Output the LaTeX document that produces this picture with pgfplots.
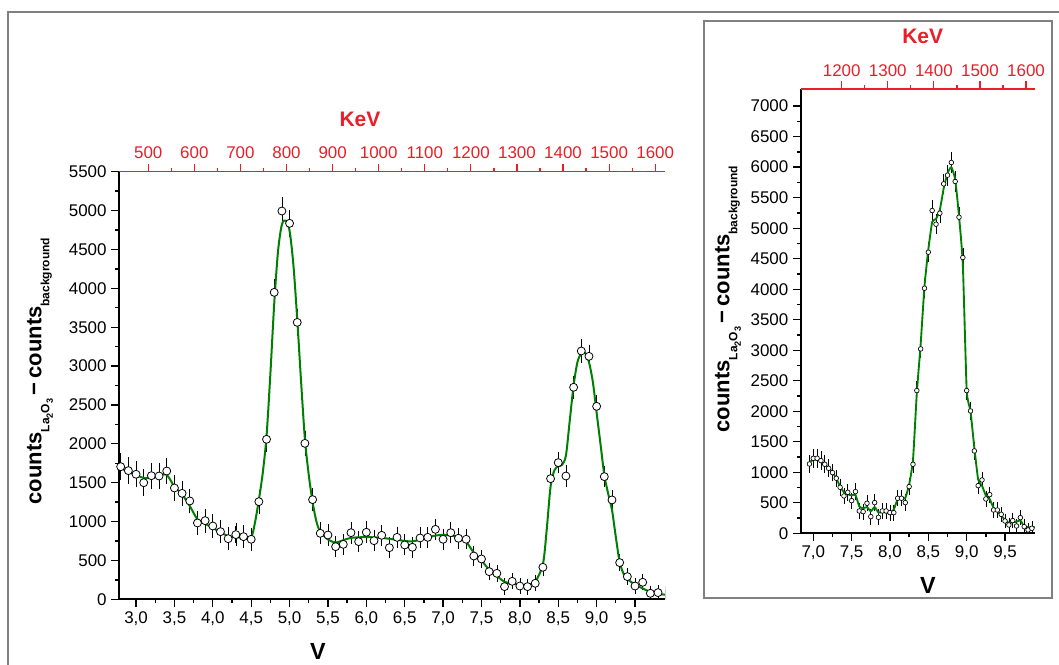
\documentclass[border=0pt]{standalone}
\usepackage{fontspec}
\setmainfont{Liberation Sans}
\usepackage{pgfplots}
\usepackage{pgfplotstable}
\pgfplotsset{compat=1.18}
\definecolor{keVred}{RGB}{232,30,40}
\definecolor{fitgreen}{RGB}{0,128,0}
\definecolor{framegray}{RGB}{128,128,128}

\pgfplotstableread{
V C E
2.8 1706 128
2.9 1655 125
3.0 1608 125
3.1 1500 125
3.2 1590 125
3.3 1586 125
3.4 1650 128
3.5 1432 120
3.6 1363 118
3.7 1265 115
3.8 982 112
3.9 1012 110
4.0 943 108
4.1 870 105
4.2 780 105
4.3 832 105
4.4 806 102
4.5 772 100
4.6 1256 110
4.7 2058 118
4.8 3948 128
4.9 4994 133
5.0 4836 130
5.1 3562 125
5.2 2006 115
5.3 1282 105
5.4 849 98
5.5 827 95
5.6 677 92
5.7 707 92
5.8 857 95
5.9 742 92
6.0 862 95
6.1 754 92
6.2 823 92
6.3 664 90
6.4 797 92
6.5 699 90
6.6 669 90
6.7 789 90
6.8 797 90
6.9 900 92
7.0 772 90
7.1 857 92
7.2 785 88
7.3 772 85
7.4 557 78
7.5 519 75
7.6 356 68
7.7 334 65
7.8 163 60
7.9 231 60
8.0 171 58
8.1 163 57
8.2 206 60
8.3 412 70
8.4 1552 90
8.5 1758 95
8.6 1586 92
8.7 2727 105
8.8 3194 108
8.9 3125 106
9.0 2482 100
9.1 1578 90
9.2 1278 85
9.3 472 65
9.4 292 60
9.5 171 56
9.6 219 56
9.7 77 52
9.8 86 52
9.9 70 52
}\maindata

\pgfplotstableread{
V F
2.78 1700
2.9 1640
3.0 1600
3.1 1560
3.2 1565
3.3 1590
3.4 1600
3.5 1450
3.6 1350
3.7 1200
3.8 1030
3.9 970
4.0 920
4.1 860
4.2 815
4.3 800
4.4 790
4.5 800
4.55 990
4.6 1280
4.65 1620
4.7 2100
4.75 2900
4.8 3800
4.85 4480
4.9 4820
4.95 4870
5.0 4740
5.05 4300
5.1 3600
5.15 2800
5.2 2060
5.25 1600
5.3 1250
5.35 1000
5.4 870
5.5 770
5.6 730
5.7 760
5.8 790
6.0 800
6.2 790
6.4 765
6.6 745
6.8 800
7.0 830
7.2 800
7.3 740
7.4 600
7.5 500
7.6 380
7.7 300
7.8 225
7.9 200
8.0 190
8.1 180
8.2 230
8.3 450
8.35 900
8.4 1450
8.45 1660
8.5 1710
8.55 1730
8.6 1850
8.65 2300
8.7 2750
8.75 3050
8.8 3160
8.85 3170
8.9 3050
8.95 2800
9.0 2400
9.05 2000
9.1 1600
9.15 1360
9.2 1150
9.25 800
9.3 480
9.35 330
9.4 260
9.5 190
9.6 140
9.7 95
9.8 70
9.89 60
}\mainfit

\pgfplotstableread{
V C E
6.95 1136 105
7.0 1229 110
7.05 1229 110
7.1 1191 108
7.15 1131 105
7.2 1065 105
7.25 994 102
7.3 902 100
7.35 754 98
7.4 612 95
7.45 672 95
7.5 535 92
7.55 683 95
7.6 366 90
7.65 355 90
7.7 492 92
7.75 273 88
7.8 503 92
7.85 262 88
7.9 366 90
7.95 366 90
8.0 339 88
8.05 339 88
8.1 574 92
8.15 574 92
8.2 503 92
8.25 765 95
8.3 1131 100
8.35 2339 110
8.4 3022 115
8.45 4016 120
8.5 4606 122
8.55 5289 125
8.6 5065 125
8.65 5245 125
8.7 5726 128
8.75 5868 128
8.8 6076 132
8.85 5765 128
8.9 5180 125
8.95 4519 122
9.0 2339 110
9.05 2005 108
9.1 1350 100
9.15 781 95
9.2 874 95
9.25 563 90
9.3 634 90
9.35 382 85
9.4 382 85
9.45 311 82
9.5 202 80
9.55 137 78
9.6 208 80
9.65 120 78
9.7 257 80
9.75 109 78
9.8 55 75
9.85 82 75
}\insetdata

\pgfplotstableread{
V F
6.95 1170
7.0 1200
7.05 1210
7.1 1180
7.15 1130
7.2 1070
7.25 1000
7.3 900
7.35 770
7.4 670
7.45 640
7.5 620
7.55 630
7.6 440
7.65 410
7.7 430
7.75 360
7.8 430
7.85 340
7.9 350
7.95 340
8.0 330
8.05 390
8.1 560
8.15 560
8.2 580
8.25 800
8.3 1200
8.35 2300
8.4 3100
8.45 4050
8.5 4650
8.55 5100
8.6 5150
8.65 5300
8.7 5650
8.75 5900
8.8 6000
8.85 5800
8.9 5200
8.95 4400
9.0 2350
9.05 2000
9.1 1400
9.15 880
9.2 780
9.25 620
9.3 560
9.35 420
9.4 360
9.45 290
9.5 220
9.55 170
9.6 180
9.65 190
9.7 210
9.75 110
9.8 100
9.85 100
9.89 100
}\insetfit

\pgfplotsset{
  base/.style={scale only axis, anchor=south west, tick align=outside,
    major tick length=6pt, minor tick length=3pt,
    /pgf/number format/assume math mode=true,
    ticklabel style={font=\fontsize{12.7}{14}\selectfont},
    axis line style={-, line width=1.4pt}},
  vstyle/.style={axis x line*=bottom, axis y line*=left,
    xtick style={black, line width=1pt},
    ytick style={black, line width=1pt},
    xticklabel style={/pgf/number format/.cd, fixed, fixed zerofill, precision=1, use comma},
    yticklabel style={/pgf/number format/.cd, fixed, 1000 sep={}},
    minor x tick num=1, minor y tick num=1},
  kevstyle/.style={axis x line*=top, axis y line=none, ymin=0, ymax=1,
    x axis line style={keVred, line width=1.1pt},
    xtick style={keVred, line width=0.9pt},
    xticklabel style={text=keVred, /pgf/number format/.cd, fixed, 1000 sep={}},
    minor x tick num=1},
}

\newcommand{\ylab}{\bfseries\fontsize{16.5}{18}\selectfont counts\raisebox{-6pt}{\fontsize{9}{10}\selectfont La\raisebox{-2.5pt}{\fontsize{6.8}{7}\selectfont 2}O\raisebox{-2.5pt}{\fontsize{6.8}{7}\selectfont 3}}\,\symbol{"2212}\,counts\raisebox{-6pt}{\fontsize{9}{10}\selectfont background}}

\begin{document}
\begin{tikzpicture}[x=0.75pt, y=0.75pt]
\useasboundingbox (0,0) rectangle (1059,664);
\draw[framegray, line width=1.4pt] (8,-3) -- (8,652) -- (1062,652);
\draw[framegray, line width=1.5pt] (704,66) rectangle (1051.7,643);

% main plot
\begin{axis}[base, vstyle, at={(89.475pt,48.525pt)}, width=409.3pt, height=320.7pt,
  xmin=2.782, xmax=9.891, ymin=0, ymax=5500,
  xtick={3,3.5,4,4.5,5,5.5,6,6.5,7,7.5,8,8.5,9,9.5},
  ytick={0,500,...,5500}]
\addplot[draw=none, mark=none, forget plot,
  error bars/.cd, y dir=both, y explicit,
  error bar style={draw=black, line width=0.5pt, solid},
  error mark options={draw=black, line width=0.5pt, mark size=2.6pt}]
  table[x=V, y=C, y error=E] \maindata;
\addplot[fitgreen, line width=1.5pt, smooth, mark=none] table[x=V, y=F] \mainfit;
\addplot[only marks, mark=*, mark size=3pt, mark options={fill=white, draw=black, line width=0.6pt}]
  table[x=V, y=C] \maindata;
\end{axis}
\begin{axis}[base, kevstyle, at={(89.475pt,48.525pt)}, width=409.3pt, height=320.7pt,
  xmin=437.1, xmax=1621.3, xtick={500,600,...,1600}]
\addplot[draw=none, mark=none] coordinates {(500,0.5)};
\end{axis}

% inset
\begin{axis}[base, vstyle, at={(600.75pt,98.025pt)}, width=175.5pt, height=333.2pt,
  xmin=6.84, xmax=9.891, ymin=0, ymax=7280,
  xtick={7,7.5,8,8.5,9,9.5},
  ytick={0,500,...,7000}]
\addplot[draw=none, mark=none, forget plot,
  error bars/.cd, y dir=both, y explicit,
  error bar style={draw=black, line width=0.5pt, solid},
  error mark options={draw=black, line width=0.5pt, mark size=1.9pt}]
  table[x=V, y=C, y error=E] \insetdata;
\addplot[fitgreen, line width=1.4pt, smooth, tension=0.3, mark=none] table[x=V, y=F] \insetfit;
\addplot[only marks, mark=*, mark size=1.75pt, mark options={fill=white, draw=black, line width=0.5pt}]
  table[x=V, y=C] \insetdata;
\end{axis}
\begin{axis}[base, kevstyle, at={(600.75pt,98.025pt)}, width=175.5pt, height=333.2pt,
  xmin=1111.7, xmax=1619.5, xtick={1200,1300,...,1600}]
\addplot[draw=none, mark=none] coordinates {(1200,0.5)};
\end{axis}

\node[text=keVred, font=\bfseries\fontsize{15.75}{17}\selectfont] at (360,545) {KeV};
\node[text=keVred, font=\bfseries\fontsize{15.75}{17}\selectfont] at (922.7,627.3) {KeV};
\node[font=\bfseries\fontsize{17.5}{19}\selectfont] at (318,13) {V};
\node[font=\bfseries\fontsize{17.5}{19}\selectfont] at (928,79) {V};
\node[rotate=90] at (40,293) {\ylab};
\node[rotate=90] at (728,365) {\ylab};
\end{tikzpicture}
\end{document}
